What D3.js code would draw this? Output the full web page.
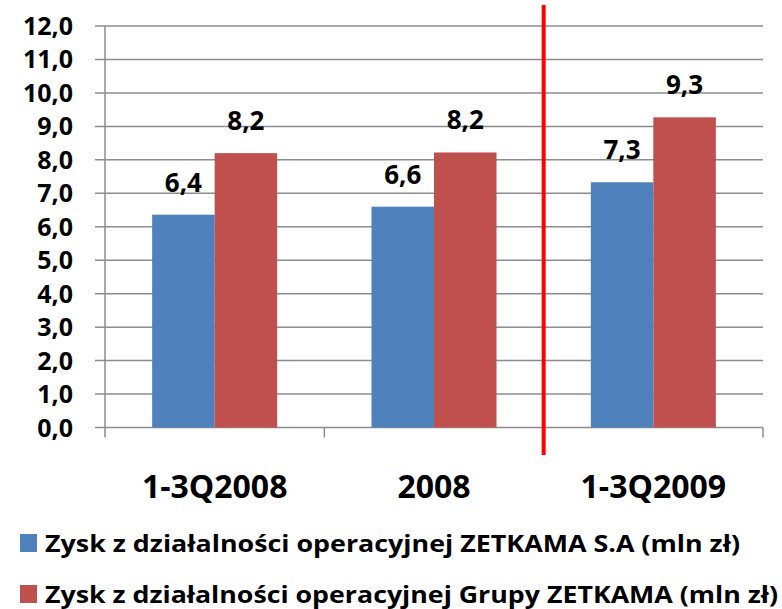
<!DOCTYPE html>
<html>
<head>
<meta charset="utf-8">
<script src="https://cdn.jsdelivr.net/npm/d3@7"></script>
<style>
  body { margin: 0; background: #fff; }
  text { font-family: "Open Sans", Lato, sans-serif; font-weight: bold; fill: #000; }
</style>
</head>
<body>
<div id="chart"></div>
<script>
const categories = ["1-3Q2008", "2008", "1-3Q2009"];
const seriesNames = [
    "Zysk z działalności operacyjnej ZETKAMA S.A (mln zł)",
    "Zysk z działalności operacyjnej Grupy ZETKAMA (mln zł)"
];
const seriesA = [6.36, 6.6, 7.33];
const seriesB = [8.2, 8.22, 9.27];
const yTicks = [0, 1, 2, 3, 4, 5, 6, 7, 8, 9, 10, 11, 12];
const colors = ["#4F81BD", "#C0504D"];

const width = 782, height = 609;
const plotLeft = 105, plotRight = 763, plotTop = 26, plotBottom = 427.5;

const svg = d3.select("#chart").append("svg")
    .attr("width", width)
    .attr("height", height);

const x = d3.scaleBand().domain(categories).range([plotLeft, plotRight]).padding(0);
const y = d3.scaleLinear().domain([0, 12]).range([plotBottom, plotTop]);
const fmt = v => d3.format(".1f")(v).replace(".", ",");

// gridlines
svg.append("g")
    .selectAll("line")
    .data(yTicks)
    .join("line")
    .attr("x1", plotLeft - 10)
    .attr("x2", plotRight)
    .attr("y1", d => y(d))
    .attr("y2", d => y(d))
    .attr("stroke", "#8c8c8c")
    .attr("stroke-width", 1.5);

// y axis line
svg.append("line")
    .attr("x1", plotLeft).attr("x2", plotLeft)
    .attr("y1", plotTop).attr("y2", plotBottom + 10)
    .attr("stroke", "#8c8c8c").attr("stroke-width", 1.5);

// category ticks
const bounds = categories.map(c => x(c)).concat([plotRight]);
svg.append("g")
    .selectAll("line")
    .data(bounds.slice(1))
    .join("line")
    .attr("x1", d => d).attr("x2", d => d)
    .attr("y1", plotBottom).attr("y2", plotBottom + 10)
    .attr("stroke", "#8c8c8c").attr("stroke-width", 1.5);

// y labels
svg.append("g")
    .selectAll("text")
    .data(yTicks)
    .join("text")
    .attr("x", 73)
    .attr("y", d => y(d))
    .attr("dy", "0.36em")
    .attr("text-anchor", "end")
    .attr("font-size", 25)
    .text(d => fmt(d));

// bars
const barW = x.bandwidth() * 0.285;
const rows = categories.map((c, i) => [
    { c, s: 0, v: seriesA[i] },
    { c, s: 1, v: seriesB[i] }
]).flat();

svg.append("g")
    .selectAll("rect")
    .data(rows)
    .join("rect")
    .attr("x", d => x(d.c) + x.bandwidth() / 2 - barW + d.s * barW)
    .attr("width", barW)
    .attr("y", d => y(d.v))
    .attr("height", d => y(0) - y(d.v))
    .attr("fill", d => colors[d.s]);

// value labels
svg.append("g")
    .selectAll("text")
    .data(rows)
    .join("text")
    .attr("x", d => x(d.c) + x.bandwidth() / 2 - barW + d.s * barW + barW / 2)
    .attr("y", d => y(d.v) - 23)
    .attr("text-anchor", "middle")
    .attr("font-size", 26)
    .text(d => fmt(d.v));

// red separator between 2008 and 2009
svg.append("line")
    .attr("x1", x(categories[2])).attr("x2", x(categories[2]))
    .attr("y1", 5).attr("y2", 455)
    .attr("stroke", "#ff0000").attr("stroke-width", 4);

// category labels
svg.append("g")
    .selectAll("text")
    .data(categories)
    .join("text")
    .attr("x", d => x(d) + x.bandwidth() / 2)
    .attr("y", 498)
    .attr("text-anchor", "middle")
    .attr("font-size", 32)
    .text(d => d);

// legend
const legendWidths = [695, 733];
const legend = svg.append("g")
    .selectAll("g")
    .data(seriesNames)
    .join("g")
    .attr("transform", (d, i) => `translate(20,${534 + i * 51})`);

legend.append("rect")
    .attr("width", 17).attr("height", 18)
    .attr("fill", (d, i) => colors[i]);

legend.append("text")
    .attr("x", 25)
    .attr("y", 18)
    .attr("font-size", 23)
    .attr("textLength", (d, i) => legendWidths[i])
    .attr("lengthAdjust", "spacingAndGlyphs")
    .text(d => d);
</script>
</body>
</html>
